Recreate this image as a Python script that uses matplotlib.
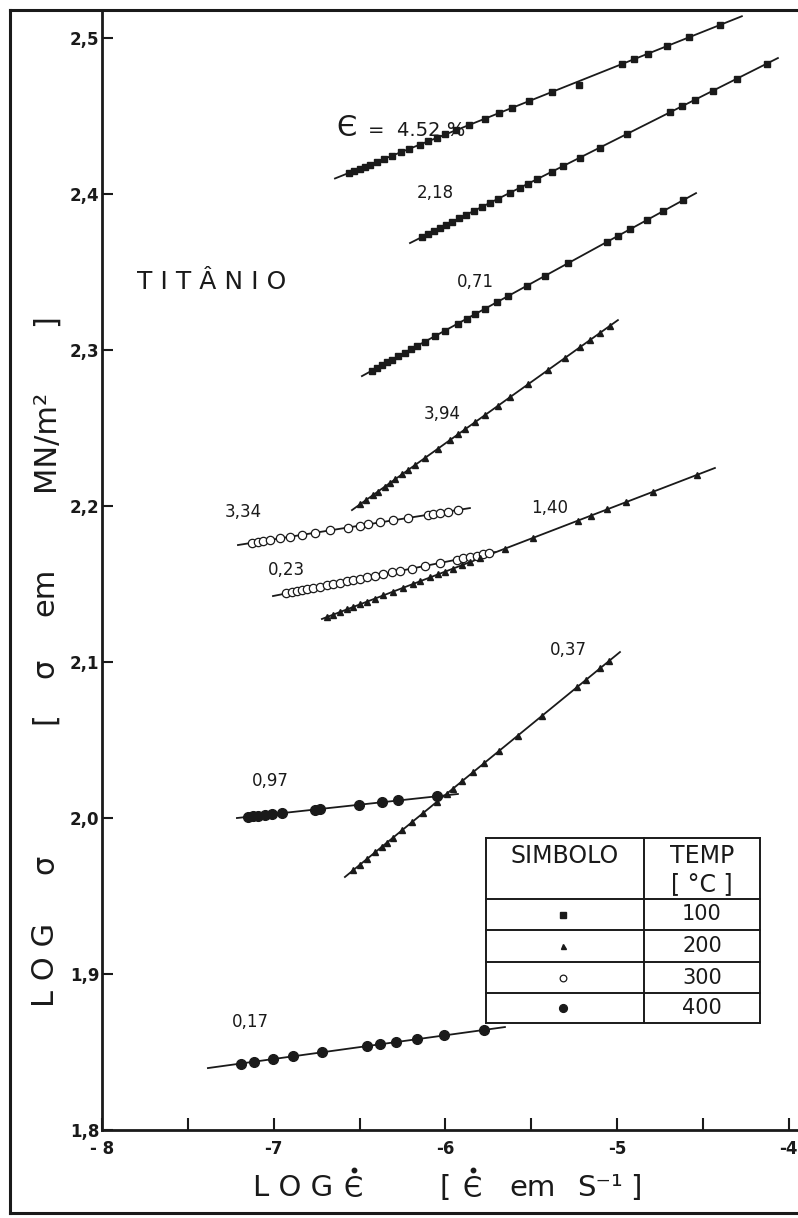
import matplotlib
matplotlib.use("Agg")
import matplotlib.pyplot as plt
from matplotlib.lines import Line2D
from matplotlib.ticker import FixedLocator

# ---------------- data ----------------
# strain 4.52 %, 100 C (squares)
x_452 = [-6.56, -6.53, -6.50, -6.47, -6.44, -6.40, -6.36, -6.31, -6.26, -6.21, -6.15, -6.10, -6.05, -6.00,
         -5.94, -5.86, -5.77, -5.69, -5.61, -5.51, -5.38, -5.22, -4.97, -4.90, -4.82, -4.71, -4.58, -4.40]
y_452 = [2.4136, 2.4150, 2.4163, 2.4176, 2.4189, 2.4207, 2.4224, 2.4246, 2.4268, 2.4290, 2.4316, 2.4338, 2.4360, 2.4382,
         2.4409, 2.4444, 2.4483, 2.4518, 2.4553, 2.4597, 2.4654, 2.4700, 2.4834, 2.4865, 2.4900, 2.4949, 2.5006, 2.5085]
fit_x_452 = [-6.643, -4.273]
fit_y_452 = [2.410, 2.514]

# strain 2.18 %, 100 C (squares)
x_218 = [-6.136, -6.101, -6.066, -6.031, -5.997, -5.962, -5.921, -5.880, -5.833, -5.787, -5.740, -5.694, -5.624, -5.566,
         -5.519, -5.466, -5.379, -5.315, -5.216, -5.100, -4.942, -4.692, -4.622, -4.546, -4.441, -4.302, -4.127]
y_218 = [2.3725, 2.3744, 2.3763, 2.3783, 2.3802, 2.3821, 2.3844, 2.3866, 2.3892, 2.3918, 2.3944, 2.3969, 2.4008, 2.4040,
         2.4066, 2.4095, 2.4143, 2.4179, 2.4233, 2.4298, 2.4385, 2.4523, 2.4562, 2.4604, 2.4662, 2.4739, 2.4836]
fit_x_218 = [-6.206, -4.063]
fit_y_218 = [2.3686, 2.4872]

# strain 0.71 %, 100 C (squares)
x_071 = [-6.43, -6.40, -6.37, -6.34, -6.31, -6.276, -6.235, -6.200, -6.165, -6.119, -6.061, -6.002, -5.927, -5.874,
         -5.828, -5.769, -5.699, -5.635, -5.525, -5.420, -5.286, -5.059, -4.995, -4.925, -4.826, -4.733, -4.616]
y_071 = [2.2867, 2.2885, 2.2903, 2.2921, 2.2939, 2.2960, 2.2984, 2.3005, 2.3027, 2.3054, 2.3089, 2.3125, 2.3170, 2.3202,
         2.3230, 2.3265, 2.3308, 2.3346, 2.3412, 2.3476, 2.3557, 2.3693, 2.3732, 2.3774, 2.3834, 2.3890, 2.3961]
fit_x_071 = [-6.486, -4.540]
fit_y_071 = [2.2833, 2.4006]

# strain 3.94 %, 200 C (triangles)
x_394 = [-6.497, -6.462, -6.422, -6.393, -6.352, -6.323, -6.294, -6.253, -6.218, -6.177, -6.119, -6.043, -5.973,
         -5.927, -5.886, -5.828, -5.769, -5.694, -5.624, -5.519, -5.402, -5.303, -5.216, -5.158, -5.100, -5.041]
y_394 = [2.2011, 2.2038, 2.2070, 2.2093, 2.2125, 2.2148, 2.2171, 2.2203, 2.2230, 2.2262, 2.2308, 2.2368, 2.2423,
         2.2459, 2.2491, 2.2537, 2.2583, 2.2642, 2.2697, 2.2780, 2.2872, 2.2949, 2.3018, 2.3063, 2.3109, 2.3155]
fit_x_394 = [-6.544, -4.995]
fit_y_394 = [2.1974, 2.3192]

# strain 3.34 %, 300 C (open circles)
x_334 = [-7.126, -7.091, -7.062, -7.022, -6.963, -6.905, -6.835, -6.760, -6.672, -6.567, -6.497, -6.451, -6.381,
         -6.305, -6.218, -6.101, -6.072, -6.031, -5.985, -5.927]
y_334 = [2.1764, 2.1770, 2.1776, 2.1783, 2.1793, 2.1803, 2.1815, 2.1828, 2.1844, 2.1862, 2.1874, 2.1882, 2.1895,
         2.1908, 2.1923, 2.1944, 2.1949, 2.1956, 2.1964, 2.1974]
fit_x_334 = [-7.208, -5.857]
fit_y_334 = [2.175, 2.1987]

# strain 0.23 %, 300 C (open circles)
x_023 = [-6.928, -6.893, -6.864, -6.835, -6.806, -6.771, -6.730, -6.690, -6.655, -6.614, -6.573, -6.538, -6.497,
         -6.457, -6.410, -6.363, -6.311, -6.264, -6.195, -6.119, -6.031, -5.932, -5.897, -5.857, -5.816, -5.781, -5.746]
y_023 = [2.1440, 2.1447, 2.1454, 2.1460, 2.1466, 2.1474, 2.1483, 2.1491, 2.1499, 2.1508, 2.1517, 2.1525, 2.1534,
         2.1542, 2.1552, 2.1563, 2.1574, 2.1584, 2.1599, 2.1616, 2.1635, 2.1657, 2.1664, 2.1673, 2.1682, 2.1690, 2.1697]
fit_x_023 = [-7.004, -5.711]
fit_y_023 = [2.1423, 2.1705]

# strain 1.40 %, 200 C (triangles)
x_140 = [-6.690, -6.655, -6.614, -6.573, -6.538, -6.497, -6.457, -6.410, -6.363, -6.305, -6.247, -6.189, -6.148, -6.090,
         -6.043, -6.002, -5.956, -5.903, -5.857, -5.798, -5.653, -5.490, -5.228, -5.152, -5.059, -4.948, -4.791, -4.535]
y_140 = [2.1288, 2.1303, 2.1320, 2.1338, 2.1353, 2.1370, 2.1387, 2.1407, 2.1427, 2.1451, 2.1476, 2.1500, 2.1518, 2.1542,
         2.1562, 2.1579, 2.1599, 2.1621, 2.1641, 2.1666, 2.1727, 2.1796, 2.1907, 2.1939, 2.1978, 2.2025, 2.2092, 2.2200]
fit_x_140 = [-6.719, -4.430]
fit_y_140 = [2.1276, 2.2244]

# strain 0.97 %, 400 C (filled circles)
x_097 = [-7.150, -7.121, -7.091, -7.051, -7.010, -6.952, -6.760, -6.730, -6.503, -6.369, -6.276, -6.049]
y_097 = [2.0008, 2.0011, 2.0015, 2.0020, 2.0024, 2.0031, 2.0054, 2.0058, 2.0085, 2.0101, 2.0113, 2.0140]
fit_x_097 = [-7.214, -5.927]
fit_y_097 = [2.000, 2.0154]

# strain 0.37 %, 200 C (triangles)
x_037 = [-6.538, -6.497, -6.457, -6.410, -6.369, -6.340, -6.305, -6.253, -6.195, -6.130, -6.049, -5.991, -5.956,
         -5.903, -5.839, -5.775, -5.688, -5.577, -5.437, -5.234, -5.181, -5.100, -5.047]
y_037 = [1.9664, 1.9701, 1.9737, 1.9780, 1.9816, 1.9843, 1.9874, 1.9921, 1.9973, 2.0032, 2.0104, 2.0157, 2.0188,
         2.0236, 2.0293, 2.0351, 2.0429, 2.0529, 2.0655, 2.0838, 2.0886, 2.0959, 2.1006]
fit_x_037 = [-6.585, -4.983]
fit_y_037 = [1.9622, 2.1064]

# strain 0.17 %, 400 C (filled circles)
x_017 = [-7.190, -7.115, -7.004, -6.888, -6.719, -6.457, -6.381, -6.288, -6.165, -6.008, -5.775]
y_017 = [1.8426, 1.8438, 1.8455, 1.8472, 1.8498, 1.8538, 1.8549, 1.8563, 1.8582, 1.8606, 1.8641]
fit_x_017 = [-7.383, -5.653]
fit_y_017 = [1.8397, 1.8660]

series_labels = ["4.52", "2,18", "0,71", "3,94", "3,34", "0,23", "1,40", "0,97", "0,37", "0,17"]
series_temps = [100, 100, 100, 200, 300, 300, 200, 400, 200, 400]

x_ticks = [-8, -7, -6, -5, -4]
x_tick_labels = ["- 8", "-7", "-6", "-5", "-4"]
x_minor = [-7.5, -6.5, -5.5, -4.5]
y_ticks = [1.8, 1.9, 2.0, 2.1, 2.2, 2.3, 2.4, 2.5]
y_tick_labels = ["1,8", "1,9", "2,0", "2,1", "2,2", "2,3", "2,4", "2,5"]

legend_symbols = [100, 200, 300, 400]
legend_temps = ["100", "200", "300", "400"]

# ---------------- drawing ----------------
W, H = 798, 1218
fig = plt.figure(figsize=(W / 100, H / 100), dpi=100)
fig.patch.set_facecolor("white")
ax = fig.add_axes([102 / W, 1 - 1130 / H, (W - 102) / W, (1130 - 10) / H])
ax.set_xlim(-8, -3.946)
ax.set_ylim(1.8, 2.518)

INK = "#1a1a1a"
styles = {
    100: dict(marker="s", ms=5.0, mfc=INK, mec=INK),
    200: dict(marker="^", ms=4.5, mfc=INK, mec=INK),
    300: dict(marker="o", ms=6.0, mfc="white", mec=INK, mew=0.9),
    400: dict(marker="o", ms=7.0, mfc=INK, mec=INK),
}

all_series = [
    (x_452, y_452, fit_x_452, fit_y_452),
    (x_218, y_218, fit_x_218, fit_y_218),
    (x_071, y_071, fit_x_071, fit_y_071),
    (x_394, y_394, fit_x_394, fit_y_394),
    (x_334, y_334, fit_x_334, fit_y_334),
    (x_023, y_023, fit_x_023, fit_y_023),
    (x_140, y_140, fit_x_140, fit_y_140),
    (x_097, y_097, fit_x_097, fit_y_097),
    (x_037, y_037, fit_x_037, fit_y_037),
    (x_017, y_017, fit_x_017, fit_y_017),
]
for (xs, ys, fx, fy), temp in zip(all_series, series_temps):
    ax.plot(fx, fy, color=INK, lw=1.3, zorder=2)
    ax.plot(xs, ys, ls="none", zorder=3, **styles[temp])

# axes styling
for s in ("top", "right"):
    ax.spines[s].set_visible(False)
for s in ("left", "bottom"):
    ax.spines[s].set_linewidth(2.0)
    ax.spines[s].set_color(INK)
ax.xaxis.set_major_locator(FixedLocator(x_ticks))
ax.xaxis.set_minor_locator(FixedLocator(x_minor))
ax.set_xticklabels(x_tick_labels)
ax.yaxis.set_major_locator(FixedLocator(y_ticks))
ax.set_yticklabels(y_tick_labels)
ax.tick_params(axis="both", which="both", direction="in", width=1.5, color=INK,
               labelsize=12, labelcolor=INK)
ax.tick_params(axis="x", which="major", length=9, pad=7)
ax.tick_params(axis="x", which="minor", length=9)
ax.tick_params(axis="y", which="major", length=8, pad=2)
for lab in ax.get_xticklabels() + ax.get_yticklabels():
    lab.set_fontweight("bold")


def P(x, y):
    return (x / W, 1 - y / H)


T = fig.transFigure

# outer frame
fig.add_artist(Line2D([P(10, 0)[0], P(10, 0)[0]], [P(0, 10)[1], P(0, 1213)[1]], transform=T, color=INK, lw=2.2))
fig.add_artist(Line2D([P(10, 0)[0], 1.0], [P(0, 10)[1], P(0, 10)[1]], transform=T, color=INK, lw=2.2))
fig.add_artist(Line2D([P(10, 0)[0], 1.0], [P(0, 1213)[1], P(0, 1213)[1]], transform=T, color=INK, lw=2.2))

# curve labels
fig.text(*P(347, 128), "Є", transform=T, fontsize=21, ha="center", va="center", color=INK)
fig.text(*P(368, 131), "=  " + series_labels[0] + " %", transform=T, fontsize=14, ha="left", va="center", color=INK)
label_pos = [(435, 193), (475, 282), (442, 414), (243, 512), (286, 570), (550, 508), (270, 781), (568, 650), (250, 1022)]
for lab, (px, py) in zip(series_labels[1:], label_pos):
    fig.text(*P(px, py), lab, transform=T, fontsize=12, ha="center", va="center", color=INK)

fig.text(*P(137, 282), "T I T Â N I O", transform=T, fontsize=18, ha="left", va="center", color=INK)

# y axis title (pieces placed along the left margin)
ylab_parts = [("L O G", 965), ("σ", 864), ("[", 718), ("σ", 668), ("em", 592), ("MN/m²", 440), ("]", 320)]
for txt, py in ylab_parts:
    fig.text(*P(45, py), txt, transform=T, fontsize=22, rotation=90, ha="center", va="center", color=INK)


# x axis title
def eps_dot(cx, cy, size=20):
    fig.text(*P(cx, cy), "Є", transform=T, fontsize=size, ha="center", va="center", color=INK)
    fig.add_artist(Line2D([P(cx + 1, 0)[0]], [P(0, cy - 19)[1]], transform=T, ls="none",
                          marker="o", ms=3.2, mfc=INK, mec=INK))


fig.text(*P(253, 1188), "L O G", transform=T, fontsize=21, ha="left", va="center", color=INK)
eps_dot(353, 1189)
fig.text(*P(445, 1188), "[", transform=T, fontsize=21, ha="center", va="center", color=INK)
eps_dot(472, 1189)
fig.text(*P(533, 1188), "em", transform=T, fontsize=21, ha="center", va="center", color=INK)
fig.text(*P(600, 1188), "S⁻¹", transform=T, fontsize=21, ha="center", va="center", color=INK)
fig.text(*P(636, 1188), "]", transform=T, fontsize=21, ha="center", va="center", color=INK)

# symbol table
tl, tm, tr = 486, 644, 760
rows = [838, 899, 930, 962, 993, 1023]
for yy in rows:
    fig.add_artist(Line2D([P(tl, 0)[0], P(tr, 0)[0]], [P(0, yy)[1]] * 2, transform=T, color=INK, lw=1.4))
for xx in (tl, tm, tr):
    fig.add_artist(Line2D([P(xx, 0)[0]] * 2, [P(0, rows[0])[1], P(0, rows[-1])[1]], transform=T, color=INK, lw=1.4))
fig.text(*P((tl + tm) / 2, 856), "SIMBOLO", transform=T, fontsize=17, ha="center", va="center", color=INK)
fig.text(*P((tm + tr) / 2, 856), "TEMP", transform=T, fontsize=17, ha="center", va="center", color=INK)
fig.text(*P((tm + tr) / 2, 884), "[ °C ]", transform=T, fontsize=17, ha="center", va="center", color=INK)
for i, (temp, lab) in enumerate(zip(legend_symbols, legend_temps)):
    yc = (rows[i + 1] + rows[i + 2]) / 2
    st = dict(styles[temp])
    st["ms"] = st["ms"] * 0.8
    fig.add_artist(Line2D([P(563, 0)[0]], [P(0, yc)[1]], transform=T, ls="none", **st))
    fig.text(*P((tm + tr) / 2, yc), lab, transform=T, fontsize=15, ha="center", va="center", color=INK)

fig.savefig("out.png", dpi=100)
